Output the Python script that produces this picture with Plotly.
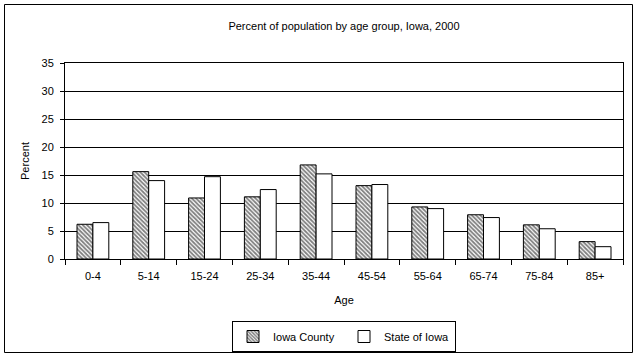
import plotly.graph_objects as go

categories = ["0-4", "5-14", "15-24", "25-34", "35-44", "45-54", "55-64", "65-74", "75-84", "85+"]
iowa_county = [6.2, 15.6, 10.9, 11.1, 16.8, 13.1, 9.3, 7.9, 6.1, 3.1]
state_of_iowa = [6.5, 14.0, 14.7, 12.4, 15.2, 13.3, 9.0, 7.4, 5.4, 2.2]
y_ticks = [0, 5, 10, 15, 20, 25, 30, 35]

W, H = 639, 358
L, R, T, B = 65, 16, 63, 99
pw, ph = W - L - R, H - T - B

def px(x):
    return (x - L) / pw

def py(y):
    return (H - B - y) / ph

font = dict(family="Liberation Sans, Arial, sans-serif", size=11, color="black")

fig = go.Figure()
fig.add_trace(go.Bar(
    x=categories, y=iowa_county, name="Iowa County",
    marker=dict(color="white", line=dict(color="black", width=1),
                pattern=dict(shape="\\", fgcolor="black", bgcolor="white", size=3, solidity=0.6)),
))
fig.add_trace(go.Bar(
    x=categories, y=state_of_iowa, name="State of Iowa",
    marker=dict(color="white", line=dict(color="black", width=1)),
))

fig.update_layout(
    width=W, height=H,
    margin=dict(l=L, r=R, t=T, b=B, autoexpand=False),
    paper_bgcolor="white", plot_bgcolor="white",
    font=font,
    barmode="group", bargap=0.43, bargroupgap=0,
    title=dict(text="Percent of population by age group, Iowa, 2000",
               x=0.5, xref="paper", xanchor="center", y=1 - 26 / H, yanchor="middle",
               font=font),
    xaxis=dict(
        title=dict(text="Age", font=font, standoff=15),
        type="category", tickson="boundaries", ticks="outside", ticklen=5,
        tickcolor="black", showline=True, linecolor="black", linewidth=1, mirror=True,
        showgrid=False, tickfont=font, automargin=False, ticklabelstandoff=7,
    ),
    yaxis=dict(
        title=dict(text="Percent", font=font, standoff=9),
        range=[0, 35], tickvals=y_ticks, ticks="outside", ticklen=4, tickcolor="black",
        showline=True, linecolor="black", linewidth=1, mirror=True,
        showgrid=True, gridcolor="black", gridwidth=1, zeroline=False, tickfont=font,
        automargin=False, ticklabelstandoff=4,
    ),
    legend=dict(
        orientation="h", x=0.5, xanchor="center", y=py(321), yanchor="top",
        bordercolor="black", borderwidth=1, font=font, itemwidth=30,
        entrywidth=66, traceorder="normal", tracegroupgap=0,
    ),
    showlegend=True,
    shapes=[dict(type="rect", xref="paper", yref="paper",
                 x0=px(4.5), x1=px(632.5), y0=py(352.5), y1=py(4.5),
                 line=dict(color="black", width=1), fillcolor="rgba(0,0,0,0)", layer="below")],
)

fig.write_html("out.html", config={"displayModeBar": False},
               post_script="document.body.style.margin='0';")
